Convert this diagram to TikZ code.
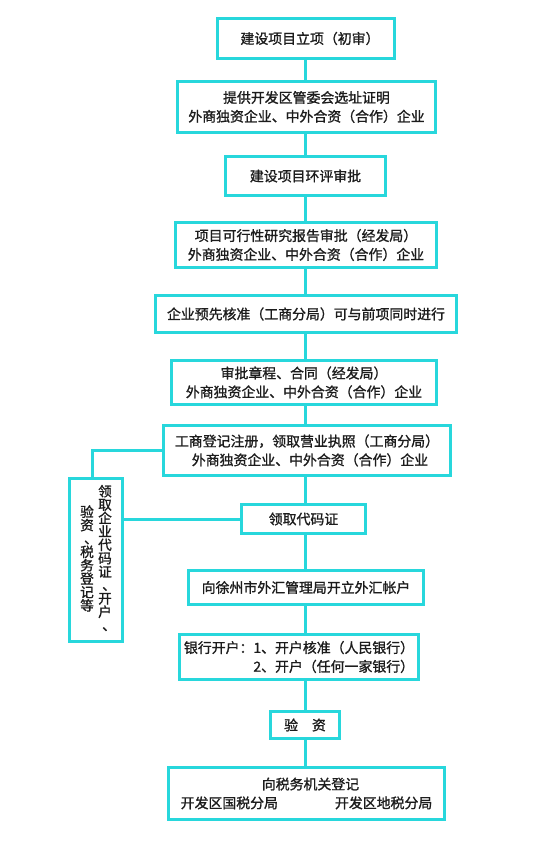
\documentclass[tikz,border=0pt]{standalone}
\usepackage{fontspec}
\setmainfont{Noto Sans CJK SC}[FakeBold=1.2]
\definecolor{cy}{RGB}{40,215,220}
\definecolor{tx}{RGB}{28,28,28}
\newcommand{\vdun}{\makebox[1em][l]{\hspace{4pt}、}}
\begin{document}
\begin{tikzpicture}[x=1pt,y=-1pt,
  bx/.style={draw=cy,line width=3pt,fill=white,inner sep=0pt,align=center,text=tx,
    font=\fontsize{13.9}{18.8}\selectfont},
  vt/.style={inner sep=0pt,align=center,text=tx,font=\fontsize{13.6}{13.4}\selectfont},
  ln/.style={draw=cy,line width=3pt}]
\useasboundingbox (0,0) rectangle (551,850);
\fill[white] (0,0) rectangle (551,850);
\coordinate (cx) at (305,0);
\coordinate (lx) at (92,0);
\node[bx,minimum width=177pt,minimum height=40pt] (b1) at (306,38.5) {\hspace{8pt}建设项目立项（初审）};
\node[bx,minimum width=258pt,minimum height=51pt] (b2) at (306.5,107) {提供开发区管委会选址证明\\外商独资企业、中外合资（合作）企业};
\node[bx,minimum width=160pt,minimum height=39pt] (b3) at (305.5,176) {建设项目环评审批};
\node[bx,minimum width=261pt,minimum height=45pt] (b4) at (306,245) {项目可行性研究报告审批（经发局）\\外商独资企业、中外合资（合作）企业};
\node[bx,minimum width=301pt,minimum height=37pt] (b5) at (306,314) {企业预先核准（工商分局）可与前项同时进行};
\node[bx,minimum width=265pt,minimum height=44pt] (b6) at (304,382.5) {审批章程、合同（经发局）\\外商独资企业、中外合资（合作）企业};
\node[bx,minimum width=287pt,minimum height=50pt] (b7) at (307,450.5) {工商登记注册，领取营业执照（工商分局）\\\hspace{6pt}外商独资企业、中外合资（合作）企业};
\node[bx,minimum width=124pt,minimum height=29pt] (b8) at (303.5,519) {领取代码证};
\node[bx,minimum width=235pt,minimum height=34pt] (b9) at (306,587.5) {向徐州市外汇管理局开立外汇帐户};
\node[bx,minimum width=239pt,minimum height=45pt,align=right] (b10) at (299,657) {银行开户：1、开户核准（人民银行）\\2、开户（任何一家银行）};
\node[bx,minimum width=69pt,minimum height=27pt] (b11) at (305,725) {验\hspace{13.9pt}资};
\node[bx,minimum width=276pt,minimum height=52pt] (b12) at (306.5,793.5) {\hspace{8pt}向税务机关登记\\开发区国税分局\hspace{57pt}开发区地税分局};
\node[bx,minimum width=53pt,minimum height=163pt] (lb) at (96,560) {};
\node[vt] (lt1) at (105,558) {领\\取\\企\\业\\代\\码\\证\\\vdun\\开\\户\\\vdun};
\node[vt] (lt2) at (87,558.5) {验\\资\\\vdun\\税\\务\\登\\记\\等};
\draw[ln] (b1.south -| cx) -- (b2.north -| cx);
\draw[ln] (b2.south -| cx) -- (b3.north -| cx);
\draw[ln] (b3.south -| cx) -- (b4.north -| cx);
\draw[ln] (b4.south -| cx) -- (b5.north -| cx);
\draw[ln] (b5.south -| cx) -- (b6.north -| cx);
\draw[ln] (b6.south -| cx) -- (b7.north -| cx);
\draw[ln] (b7.south -| cx) -- (b8.north -| cx);
\draw[ln] (b8.south -| cx) -- (b9.north -| cx);
\draw[ln] (b9.south -| cx) -- (b10.north -| cx);
\draw[ln] (b10.south -| cx) -- (b11.north -| cx);
\draw[ln] (b11.south -| cx) -- (b12.north -| cx);
\draw[ln] (b7.west) -| (lb.north -| lx);
\draw[ln] (b8.west) -- (b8.west -| lb.east);
\end{tikzpicture}
\end{document}
